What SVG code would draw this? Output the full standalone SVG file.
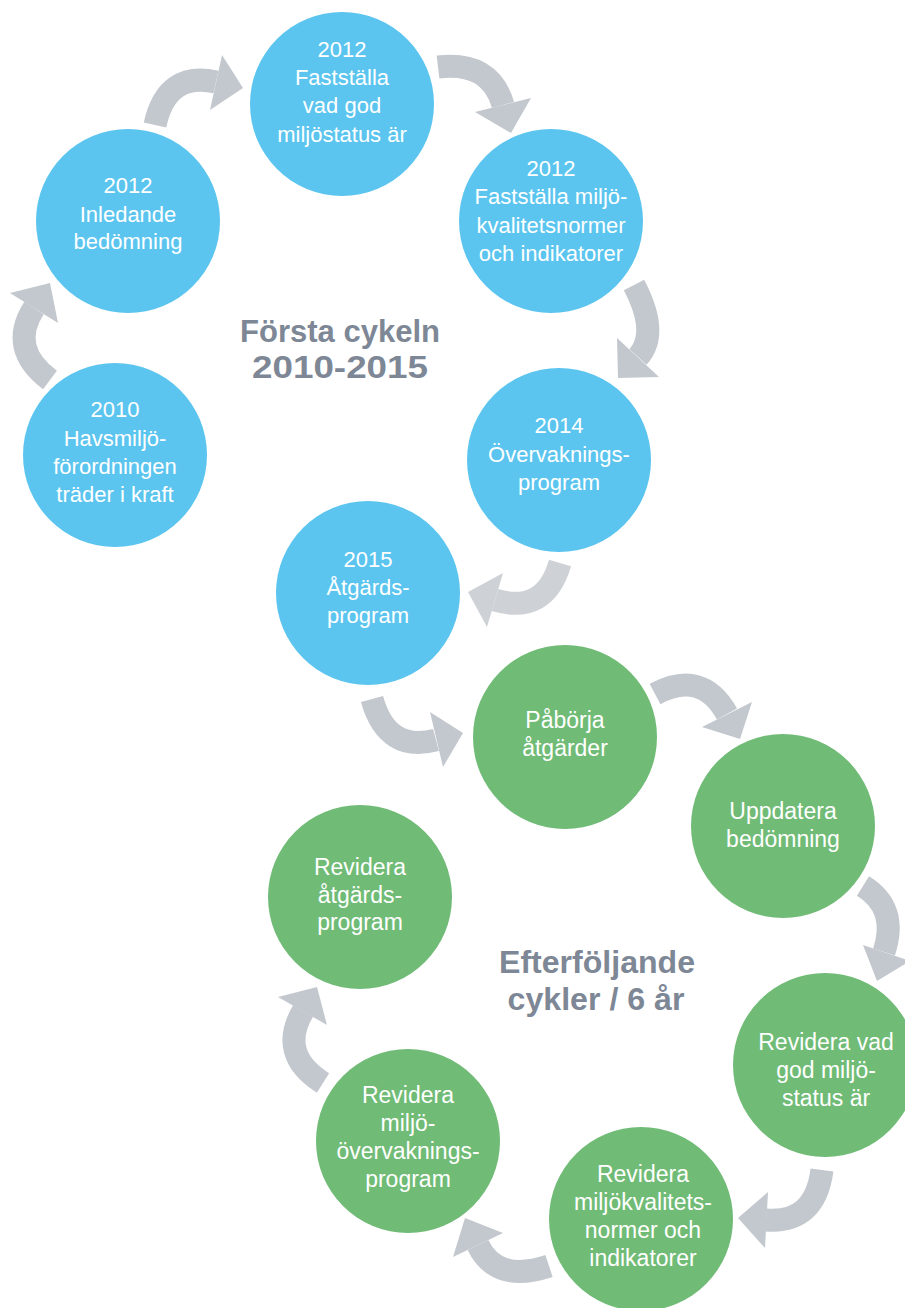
<svg xmlns="http://www.w3.org/2000/svg" width="905" height="1308" viewBox="0 0 905 1308">
<style>
.bg{fill:#ffffff}
.blue{fill:#5bc5ef}
.green{fill:#70bb76}
.band{fill:none;stroke:#c3c8ce;stroke-width:23}
.head{fill:#c3c8ce}
.band.light{stroke:#ced2d7}
.head.light{fill:#ced2d7}
.tb{font-family:"Liberation Sans",Arial,sans-serif;font-size:22px;fill:#ffffff;text-anchor:middle}
.tg{font-family:"Liberation Sans",Arial,sans-serif;font-size:23px;fill:#ffffff;text-anchor:middle}
.title{font-family:"Liberation Sans",Arial,sans-serif;font-size:31px;font-weight:bold;fill:#7d8795;text-anchor:middle}
</style>
<rect class="bg" x="0" y="0" width="905" height="1308"/>
<g id="connectors">
  <path class="band" d="M50,380 Q8,348.5 34,308"/>
  <polygon class="head" points="10,293 50,283 58,323"/>
  <path class="band" d="M155,125 Q166.7,71 216,82"/>
  <polygon class="head" points="222,55 243,88 210,110"/>
  <path class="band" d="M438,67 Q490.5,60.7 503,105"/>
  <polygon class="head" points="475,112 531,98 511,133"/>
  <path class="band" d="M634,285 Q659.4,333.3 638,357"/>
  <polygon class="head" points="617,338 659,377 618,378"/>
  <path class="band light" d="M560,563 Q545,615 495,600"/>
  <polygon class="head light" points="503,573 468,592 487,627"/>
  <path class="band" d="M372,699 Q387,753 436,740"/>
  <polygon class="head" points="430,712 463,733 443,767"/>
  <path class="band" d="M655,694 Q702,669 727,714"/>
  <polygon class="head" points="702,727 752,702 740,739"/>
  <path class="band" d="M863,886 Q898.6,908 884,952"/>
  <polygon class="head" points="863,945 910,961 877,981"/>
  <path class="band" d="M822,1170 Q815,1224 766,1220"/>
  <polygon class="head" points="768,1192 738,1218 765,1248"/>
  <path class="band" d="M549,1266 Q496.5,1283.5 478,1245"/>
  <polygon class="head" points="503,1233 465,1218 453,1257"/>
  <path class="band" d="M323,1083 Q277.7,1054.4 303,1011"/>
  <polygon class="head" points="278,997 317,987 327,1025"/>
</g>
<g id="n1">
  <circle class="blue" cx="115" cy="455" r="92"/>
  <text class="tb" x="115" y="417">2010</text>
  <text class="tb" x="115" y="446">Havsmiljö-</text>
  <text class="tb" x="115" y="474">förordningen</text>
  <text class="tb" x="115" y="502">träder i kraft</text>
</g>
<g id="n2">
  <circle class="blue" cx="128" cy="221" r="92"/>
  <text class="tb" x="128" y="193">2012</text>
  <text class="tb" x="128" y="222">Inledande</text>
  <text class="tb" x="128" y="249">bedömning</text>
</g>
<g id="n3">
  <circle class="blue" cx="342" cy="104" r="92"/>
  <text class="tb" x="342" y="57">2012</text>
  <text class="tb" x="342" y="85">Fastställa</text>
  <text class="tb" x="342" y="113">vad god</text>
  <text class="tb" x="342" y="142">miljöstatus är</text>
</g>
<g id="n4">
  <circle class="blue" cx="551" cy="221" r="92"/>
  <text class="tb" x="551" y="176">2012</text>
  <text class="tb" x="551" y="204">Fastställa miljö-</text>
  <text class="tb" x="551" y="233">kvalitetsnormer</text>
  <text class="tb" x="551" y="261">och indikatorer</text>
</g>
<g id="n5">
  <circle class="blue" cx="559" cy="460" r="92"/>
  <text class="tb" x="559" y="433">2014</text>
  <text class="tb" x="559" y="462">Övervaknings-</text>
  <text class="tb" x="559" y="490">program</text>
</g>
<g id="n6">
  <circle class="blue" cx="368" cy="593" r="92"/>
  <text class="tb" x="368" y="567">2015</text>
  <text class="tb" x="368" y="595">Åtgärds-</text>
  <text class="tb" x="368" y="623">program</text>
</g>
<g id="n7">
  <circle class="green" cx="565" cy="737" r="92"/>
  <text class="tg" x="565" y="728">Påbörja</text>
  <text class="tg" x="565" y="756">åtgärder</text>
</g>
<g id="n8">
  <circle class="green" cx="783" cy="826" r="92"/>
  <text class="tg" x="783" y="819">Uppdatera</text>
  <text class="tg" x="783" y="847">bedömning</text>
</g>
<g id="n9">
  <circle class="green" cx="360" cy="897" r="92"/>
  <text class="tg" x="360" y="875">Revidera</text>
  <text class="tg" x="360" y="903">åtgärds-</text>
  <text class="tg" x="360" y="930">program</text>
</g>
<g id="n10">
  <circle class="green" cx="825" cy="1065" r="92"/>
  <text class="tg" x="826" y="1050">Revidera vad</text>
  <text class="tg" x="826" y="1078">god miljö-</text>
  <text class="tg" x="826" y="1106">status är</text>
</g>
<g id="n11">
  <circle class="green" cx="408" cy="1141" r="92"/>
  <text class="tg" x="408" y="1103">Revidera</text>
  <text class="tg" x="408" y="1131">miljö-</text>
  <text class="tg" x="408" y="1159">övervaknings-</text>
  <text class="tg" x="408" y="1187">program</text>
</g>
<g id="n12">
  <circle class="green" cx="641" cy="1219" r="92"/>
  <text class="tg" x="643" y="1182">Revidera</text>
  <text class="tg" x="643" y="1210">miljökvalitets-</text>
  <text class="tg" x="643" y="1238">normer och</text>
  <text class="tg" x="643" y="1266">indikatorer</text>
</g>
<g id="titles">
  <text class="title" x="340" y="342" textLength="200" lengthAdjust="spacingAndGlyphs">Första cykeln</text>
  <text class="title" x="340" y="378" textLength="176" lengthAdjust="spacingAndGlyphs">2010-2015</text>
  <text class="title" x="597" y="973" textLength="196" lengthAdjust="spacingAndGlyphs">Efterföljande</text>
  <text class="title" x="596" y="1010" textLength="177" lengthAdjust="spacingAndGlyphs">cykler / 6 år</text>
</g>
</svg>
